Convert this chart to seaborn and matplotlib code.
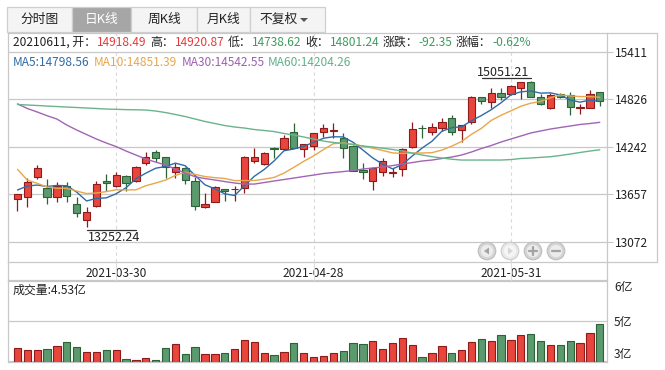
import matplotlib
matplotlib.use("Agg")
import matplotlib.pyplot as plt
from matplotlib.patches import Rectangle, Ellipse, Polygon
from matplotlib.lines import Line2D
import numpy as np
import pandas as pd
import seaborn as sns

# ---------------- data ----------------
opens = [13594, 13619, 13865, 13737, 13619, 13762, 13532, 13339, 13511, 13816,
         13758, 13881, 13823, 14045, 14180, 14111, 13927, 13976, 13820, 13495,
         13561, 13717, 13720, 13730, 14070, 14025, 14230, 14217, 14419, 14217,
         14254, 14427, 14440, 14353, 14251, 13955, 13823, 13934, 13920, 13964,
         14242, 14476, 14419, 14469, 14592, 14448, 14543, 14851, 14796, 14900,
         14888, 14969, 15040, 14851, 14715, 14888, 14879, 14715, 14723, 14918.49]
highs = [13665, 13853, 14017, 13840, 13803, 13803, 13619, 13495, 13820, 13906,
         13934, 13890, 14004, 14180, 14201, 14119, 14037, 13996, 13873, 13676,
         13758, 13721, 13758, 14125, 14222, 14177, 14242, 14386, 14530, 14280,
         14415, 14518, 14530, 14415, 14260, 14037, 13990, 14099, 13976, 14230,
         14543, 14509, 14530, 14592, 14633, 14510, 14867, 14860, 14962, 14969,
         15000, 15043, 15051.21, 14888, 14900, 14900, 14920, 14764, 14941, 14920.87]
lows = [13454, 13495, 13840, 13532, 13565, 13565, 13380, 13252.24, 13505, 13700,
        13750, 13696, 13811, 14017, 14057, 13853, 13853, 13783, 13462, 13490,
        13555, 13577, 13577, 13676, 14037, 14020, 14107, 14210, 14225, 14119,
        14201, 14358, 14346, 14099, 13940, 13844, 13709, 13881, 13872, 13881,
        14230, 14353, 14386, 14439, 14386, 14296, 14518, 14764, 14723, 14817,
        14880, 14830, 14850, 14755, 14710, 14838, 14633, 14640, 14715, 14738.62]
closes = [13659, 13811, 13976, 13619, 13762, 13635, 13422, 13434, 13779, 13791,
          13890, 13791, 13988, 14119, 14099, 13996, 13996, 13832, 13511, 13532,
          13742, 13693, 13726, 14119, 14111, 14161, 14217, 14353, 14230, 14272,
          14407, 14469, 14446, 14222, 13943, 13927, 13976, 14070, 13927, 14210,
          14456, 14469, 14488, 14543, 14427, 14506, 14851, 14805, 14900, 14858,
          14994, 15035, 14858, 14764, 14879, 14858, 14727, 14727, 14893.59, 14801.24]
volumes = [3.66, 3.59, 3.59, 3.62, 3.73, 3.88, 3.70, 3.52, 3.52, 3.59,
           3.59, 3.26, 3.22, 3.32, 3.24, 3.66, 3.81, 3.44, 3.70, 3.44,
           3.44, 3.48, 3.62, 3.95, 3.88, 3.48, 3.41, 3.52, 3.84, 3.48,
           3.33, 3.37, 3.48, 3.56, 3.84, 3.81, 3.93, 3.62, 3.84, 4.02,
           3.77, 3.33, 3.48, 3.73, 3.48, 3.59, 3.88, 3.99, 3.91, 4.13,
           3.95, 4.13, 4.17, 3.91, 3.77, 3.77, 3.91, 3.84, 4.20, 4.53]
ma5 = [13709, 13758, 13770, 13752, 13765, 13761, 13683, 13574, 13606, 13612,
       13663, 13737, 13848, 13916, 13977, 13999, 14040, 14008, 13887, 13773,
       13723, 13662, 13641, 13762, 13878, 13962, 14067, 14192, 14214, 14247,
       14296, 14346, 14365, 14363, 14297, 14201, 14103, 14028, 13969, 14022,
       14128, 14226, 14310, 14433, 14477, 14487, 14563, 14626, 14698, 14784,
       14882, 14918, 14929, 14902, 14906, 14879, 14817, 14791, 14817, 14798.56]
ma10 = [13964, 13830, 13791, 13746, 13730, 13730, 13696, 13665, 13672, 13689,
        13712, 13710, 13711, 13761, 13795, 13831, 13888, 13928, 13901, 13875,
        13861, 13851, 13825, 13825, 13826, 13842, 13864, 13917, 13988, 14062,
        14129, 14207, 14279, 14289, 14272, 14249, 14225, 14196, 14166, 14160,
        14165, 14165, 14169, 14201, 14249, 14307, 14395, 14468, 14566, 14630,
        14684, 14741, 14778, 14800, 14845, 14880, 14868, 14860, 14859, 14851.39]
ma30 = [14770, 14713, 14670, 14624, 14583, 14509, 14448, 14392, 14337, 14288,
        14244, 14189, 14140, 14090, 14053, 14017, 13967, 13918, 13872, 13850,
        13832, 13813, 13795, 13782, 13782, 13801, 13820, 13838, 13856, 13875,
        13893, 13912, 13924, 13936, 13949, 13967, 13980, 13992, 14010, 14029,
        14047, 14066, 14078, 14097, 14115, 14140, 14177, 14220, 14257, 14300,
        14337, 14374, 14411, 14436, 14460, 14479, 14497, 14516, 14528, 14542.55]
ma60 = [14762, 14756, 14750, 14743, 14737, 14731, 14725, 14719, 14713, 14706,
        14703, 14699, 14697, 14694, 14682, 14663, 14639, 14614, 14583, 14553,
        14528, 14503, 14485, 14472, 14454, 14442, 14429, 14405, 14386, 14362,
        14337, 14312, 14294, 14284, 14269, 14251, 14238, 14224, 14208, 14189,
        14164, 14140, 14119, 14103, 14088, 14078, 14078, 14078, 14078, 14078,
        14084, 14097, 14103, 14111, 14119, 14134, 14152, 14171, 14189, 14204.26]
date_positions = [10, 30, 50]
date_labels = ["2021-03-30", "2021-04-28", "2021-05-31"]
price_ticks = [13072, 13657, 14242, 14826, 15411]
vol_ticks = [3.2, 4.65, 6.1]
vol_tick_labels = ["3亿", "5亿", "6亿"]
tab_labels = ["分时图", "日K线", "周K线", "月K线", "不复权"]
info_parts = [("20210611, 开：", "k"), ("14918.49", "r"), ("高：", "k"), ("14920.87", "r"),
              ("低：", "k"), ("14738.62", "g"), ("收：", "k"), ("14801.24", "g"),
              ("涨跌：", "k"), ("-92.35", "g"), ("涨幅：", "k"), ("-0.62%", "g")]
ma_names = ["MA5", "MA10", "MA30", "MA60"]
ma_last = ["14798.56", "14851.39", "14542.55", "14204.26"]
vol_title = "成交量:4.53亿"
max_label = "15051.21"
min_label = "13252.24"

# ---------------- style ----------------
sns.set_theme(style="white")
plt.rcParams['font.family'] = ['Noto Sans CJK SC', 'DejaVu Sans']
plt.rcParams['axes.unicode_minus'] = False

RED_FILL, RED_EDGE = "#e8453c", "#8e1b1b"
GRN_FILL, GRN_EDGE = "#5b9a6e", "#2b6236"
GRID = "#c8c8c8"
TXT = "#222222"
TXT_R, TXT_G = "#e8393a", "#3f9a5e"
MA_COLORS = ["#2f6ca6", "#e9a64a", "#a065b5", "#6bb38c"]
MA_TXT = ["#2f6ca6", "#e9a64a", "#9c5fb2", "#62b08a"]
FS = 8.6

W, H = 665, 370
fig = plt.figure(figsize=(W / 100, H / 100), dpi=100)
fig.patch.set_facecolor("white")


def fx(x):
    return x / W


def fy(y):
    return 1 - y / H


ax = fig.add_axes([fx(8), fy(262), fx(607) - fx(8), fy(33) - fy(262)])
axv = fig.add_axes([fx(8), fy(362), fx(607) - fx(8), fy(280) - fy(362)])

n = len(closes)
idx = np.arange(n)
o = np.array(opens, float)
c = np.array(closes, float)
hi = np.array(highs, float)
lo = np.array(lows, float)
up = c >= o
fills = np.where(up, RED_FILL, GRN_FILL)
edges = np.where(up, RED_EDGE, GRN_EDGE)

XL = (-0.96, 59.73)

# candles
ax.vlines(idx, lo, hi, colors=edges, lw=0.9, zorder=2)
body_bottom = np.minimum(o, c)
body_h = np.maximum(np.abs(c - o), 3)
ax.bar(idx, body_h, bottom=body_bottom, width=0.74, color=fills,
       edgecolor=edges, linewidth=0.8, zorder=3)

# moving averages
df = pd.DataFrame({"idx": idx, "MA5": ma5, "MA10": ma10, "MA30": ma30, "MA60": ma60})
for name, col in zip(ma_names, MA_COLORS):
    sns.lineplot(data=df, x="idx", y=name, ax=ax, color=col, lw=1.0, zorder=4)

ax.set_xlim(*XL)
ax.set_ylim(12822, 15643)
ax.set_xlabel("")
ax.set_ylabel("")
ax.set_yticks(price_ticks)
ax.yaxis.tick_right()
ax.tick_params(axis="y", length=4, width=0.8, color=GRID, pad=1.5,
               labelsize=FS, labelcolor=TXT, right=True, left=False)
ax.set_xticks(date_positions)
ax.set_xticklabels(date_labels)
ax.tick_params(axis="x", length=0, pad=3.5, labelsize=FS, labelcolor=TXT, bottom=True)
ax.grid(axis="y", color=GRID, lw=0.9, ls="-")
ax.grid(axis="x", color="#d9d9d9", lw=0.8, ls=(0, (3, 3)))
ax.set_axisbelow(True)
for s in ax.spines.values():
    s.set_color(GRID)
    s.set_linewidth(0.9)

# volume
axv.bar(idx, volumes, width=0.74, color=fills, edgecolor=edges, linewidth=0.8, zorder=3)
axv.set_xlim(*XL)
axv.set_ylim(3.164, 6.136)
axv.set_xticks([])
axv.set_yticks(vol_ticks)
axv.set_yticklabels(vol_tick_labels)
axv.yaxis.tick_right()
axv.tick_params(axis="y", length=0, pad=5, labelsize=FS, labelcolor=TXT)
vl = axv.get_yticklabels()
vl[0].set_va("bottom")
vl[2].set_va("top")
axv.grid(axis="y", color=GRID, lw=0.9)
axv.set_axisbelow(True)
for s in axv.spines.values():
    s.set_color(GRID)
    s.set_linewidth(0.9)

# frame pieces of date row / label column
def fline(x0, y0, x1, y1, color=GRID, lw=0.9, ls="-"):
    fig.add_artist(Line2D([fx(x0), fx(x1)], [fy(y0), fy(y1)], transform=fig.transFigure,
                          color=color, lw=lw, ls=ls))

fline(607, 262, 657, 262)
fline(607, 33, 657, 33)
fline(657, 33, 657, 262)
fline(8, 262, 8, 280)
fline(607, 262, 607, 280)
for p in date_positions:
    xp = ax.transData.transform((p, 14000))[0]
    fline(xp, 262, xp, 280, color="#dedede", lw=0.8)

# tabs
tab_spans = [(7, 72), (72, 131), (131, 197), (197, 250), (250, 325)]
for i, (lab, (x0, x1)) in enumerate(zip(tab_labels, tab_spans)):
    sel = (i == 1)
    fig.add_artist(Rectangle((fx(x0), fy(32)), fx(x1) - fx(x0), fy(7) - fy(32),
                             transform=fig.transFigure,
                             facecolor="#a6a6a6" if sel else "#f4f4f4",
                             edgecolor="#cfcfcf", lw=0.9))
    cx = (x0 + x1) / 2
    if i == 4:
        fig.text(fx(279), fy(19.5), lab, ha="center", va="center", fontsize=FS + 0.6, color=TXT)
        fig.add_artist(Polygon([[fx(300), fy(18)], [fx(308), fy(18)], [fx(304), fy(22)]],
                               closed=True, transform=fig.transFigure,
                               facecolor="#555555", edgecolor="none"))
    else:
        fig.text(fx(cx), fy(19.5), lab, ha="center", va="center", fontsize=FS + 0.6,
                 color="white" if sel else TXT)

# info row
info_x = [13, 97, 150, 175, 228, 252, 305, 330, 383, 418, 456, 492]
cmap = {"k": TXT, "r": TXT_R, "g": TXT_G}
for (t, k), xpos in zip(info_parts, info_x):
    fig.text(fx(xpos), fy(42.5), t, ha="left", va="center", fontsize=FS, color=cmap[k])

ma_x = [13, 94, 182, 268]
for name, val, col, xpos in zip(ma_names, ma_last, MA_TXT, ma_x):
    fig.text(fx(xpos), fy(62.5), f"{name}:{val}", ha="left", va="center", fontsize=FS, color=col)

fig.text(fx(13), fy(290.5), vol_title, ha="left", va="center", fontsize=FS, color=TXT)

# max / min markers
def to_px(xd, yd):
    X, Y = ax.transData.transform((xd, yd))
    return X, H - Y

imax = int(np.argmax(hi))
imin = int(np.argmin(lo))
mx, my = to_px(imax, hi[imax])
fline(mx - 49, my - 2.7, mx, my - 2.7, color="#333333", lw=0.9)
fig.text(fx(mx - 1), fy(my - 8.5), max_label, ha="right", va="center", fontsize=FS + 0.4, color=TXT)
nx, ny = to_px(imin, lo[imin])
fline(nx, ny + 3.3, nx + 49.5, ny + 3.3, color="#333333", lw=0.9)
fig.text(fx(nx + 1), fy(ny + 10), min_label, ha="left", va="center", fontsize=FS + 0.4, color=TXT)

# navigation buttons
def circ(cx, cy, r, fc, ec):
    fig.add_artist(Ellipse((fx(cx), fy(cy)), 2 * r / W, 2 * r / H, transform=fig.transFigure,
                           facecolor=fc, edgecolor=ec, lw=0.8))

btn_y = 251
for k, bx in enumerate([487, 510, 533, 556]):
    disabled = (k == 1)
    circ(bx, btn_y, 8.8, "#e8e8e8" if disabled else "#d4d4d4", "#cccccc" if disabled else "#bdbdbd")
    circ(bx, btn_y, 6.2, "#f5f5f5" if disabled else "#ececec", "none")
    gc = "#d6d6d6" if disabled else "#a3a3a3"
    if k == 0:
        fig.add_artist(Polygon([[fx(bx - 3), fy(btn_y)], [fx(bx + 2), fy(btn_y - 3.5)],
                                [fx(bx + 2), fy(btn_y + 3.5)]], closed=True,
                               transform=fig.transFigure, facecolor=gc, edgecolor="none"))
    elif k == 1:
        fig.add_artist(Polygon([[fx(bx + 3), fy(btn_y)], [fx(bx - 2), fy(btn_y - 3.5)],
                                [fx(bx - 2), fy(btn_y + 3.5)]], closed=True,
                               transform=fig.transFigure, facecolor=gc, edgecolor="none"))
    elif k == 2:
        fline(bx - 4, btn_y, bx + 4, btn_y, color=gc, lw=1.6)
        fline(bx, btn_y - 4, bx, btn_y + 4, color=gc, lw=1.6)
    else:
        fline(bx - 4, btn_y, bx + 4, btn_y, color=gc, lw=1.6)

fig.savefig("out.png", dpi=100, facecolor="white")
